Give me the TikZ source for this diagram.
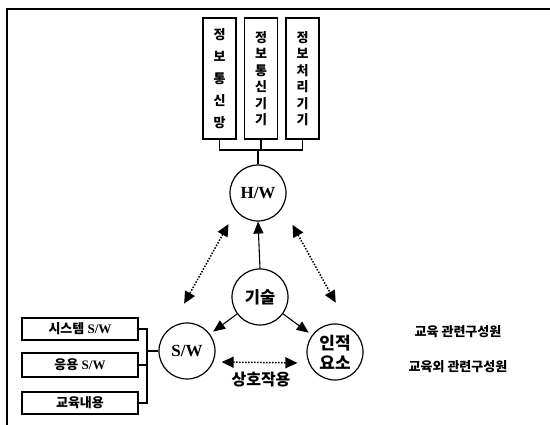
\documentclass[tikz,border=0pt]{standalone}
\usepackage{fontspec}
\setmainfont{Liberation Serif}
\newfontfamily\kr{Noto Sans CJK KR}
\usetikzlibrary{arrows.meta}
\begin{document}
\begin{tikzpicture}[x=1pt,y=-1pt,
  frameline/.style={line width=1.4pt},
  wire/.style={line width=1.1pt},
  vbox/.style={draw, line width=1.4pt, minimum width=33pt, minimum height=121pt,
    inner sep=0pt, align=center},
  vwide/.style={font=\kr\bfseries\fontsize{13}{22}\selectfont},
  vtight/.style={font=\kr\bfseries\fontsize{13}{16.5}\selectfont},
  hbox/.style={draw, line width=1.4pt, minimum width=116pt, minimum height=22pt,
    inner sep=0pt, font=\bfseries\fontsize{13}{15}\selectfont},
  ring/.style={draw, circle, line width=1.2pt, minimum size=56pt, inner sep=0pt},
  tip/.style={-{Triangle[length=12pt,width=10pt]}},
  link/.style={{Triangle[length=12pt,width=11pt]}-{Triangle[length=12pt,width=11pt]},
    line width=1.5pt, dash pattern=on 1.5pt off 1.5pt},
  note/.style={font=\kr\bfseries\fontsize{13}{15}\selectfont}
]
\useasboundingbox (0,0) rectangle (550,425);

% partial frame
\draw[frameline] (7,425) -- (7,9) -- (550,9);

% hardware components
\node[vbox, vwide]  (net)  at (219.5,78.5) {정\\보\\통\\신\\망};
\node[vbox, vtight] (comm) at (261,78.5)   {정\\보\\통\\신\\기\\기};
\node[vbox, vtight] (proc) at (302.5,78.5) {정\\보\\처\\리\\기\\기};

% central circles
\node[ring, font=\bfseries\fontsize{17}{19}\selectfont] (hw) at (258,193) {H/W};
\node[ring, font=\kr\bfseries\fontsize{16.5}{19}\selectfont] (tech) at (260,297) {기술};
\node[ring, font=\bfseries\fontsize{17}{19}\selectfont] (sw) at (187,351) {S/W};
\node[ring, align=center, font=\kr\bfseries\fontsize{17}{20}\selectfont] (human) at (335,352) {인적\\요소};

% software components
\node[hbox] (sys)  at (80,329) {{\kr 시스템} S/W};
\node[hbox, minimum height=24pt] (app) at (80,365) {{\kr 응용} S/W};
\node[hbox, font=\kr\bfseries\fontsize{13}{15}\selectfont] (edu) at (80,403) {교육내용};

% bracket joining the hardware boxes to H/W
\coordinate (hwbar) at (258,150);
\draw[wire] (net.south) -- (net.south |- hwbar) -- (proc.south |- hwbar) -- (proc.south);
\draw[wire] (comm.south) -- (comm.south |- hwbar);
\draw[wire] (hw.north) -- (hwbar);

% bracket joining the software boxes to S/W
\coordinate (swbar) at (147,351);
\draw[wire] (sys.east) -- (sys.east -| swbar) -- (edu.east -| swbar) -- (edu.east);
\draw[wire] (app.east) -- (app.east -| swbar);
\draw[wire] (sw.west) -- (swbar);

% technology drives the three elements
\draw[wire, tip] (tech.north) -- (hw.south);
\draw[wire, tip, shorten >=4pt] (tech) -- (sw);
\draw[wire, tip, shorten >=4pt] (tech) -- (human);

% mutual interactions
\draw[link, shorten <=15pt, shorten >=27pt] (hw.219) -- (sw.124);
\draw[link, shorten <=20pt, shorten >=28pt] (hw.330) -- (human.60);
\draw[link, shorten <=6pt, shorten >=9pt] ([yshift=-11pt]sw.east) -- ([yshift=-11pt]human.west)
  node[midway, below=5pt, font=\kr\bfseries\fontsize{16}{18}\selectfont] (inter) {상호작용};

% legend labels
\node[note] (lab1) at (458,332) {교육 관련구성원};
\node[note] (lab2) at (458,367) {교육외 관련구성원};
\end{tikzpicture}
\end{document}
